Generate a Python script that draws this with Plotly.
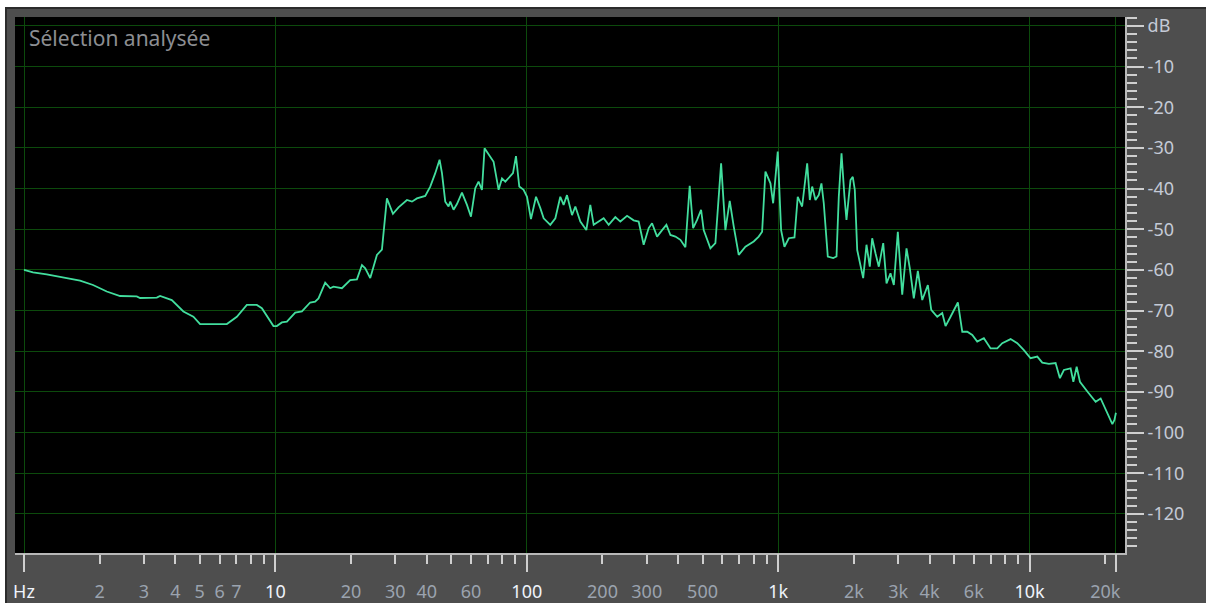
import plotly.graph_objects as go

# ---- data ----
freq_hz = [1.0, 1.086, 1.231, 1.430, 1.671, 1.882, 2.134, 2.411, 2.809, 2.895, 3.375, 3.478, 3.871, 4.305,
           4.718, 5.017, 6.410, 7.025, 7.699, 8.436, 8.834, 9.822, 10.13, 10.61, 11.11, 11.99, 12.75, 13.75,
           14.39, 14.84, 15.78, 16.52, 17.02, 18.39, 19.84, 21.10, 22.09, 22.77, 23.84, 25.34, 26.53, 27.77,
           29.35, 30.89, 33.37, 34.93, 36.56, 39.45, 41.30, 43.24, 44.98, 45.98, 47.39, 48.84, 49.61, 51.13,
           52.75, 55.22, 57.81, 59.97, 62.37, 64.29, 66.32, 67.92, 70.47, 73.78, 77.24, 79.67, 82.12, 85.97,
           88.13, 90.57, 93.35, 97.11, 100.2, 103.9, 108.8, 113.2, 116.7, 124.0, 129.9, 135.9, 140.1, 144.5,
           151.3, 156.0, 163.3, 172.5, 178.9, 184.5, 193.1, 202.2, 211.7, 225.0, 235.6, 250.5, 266.1, 278.6,
           291.7, 305.4, 315.0, 329.8, 345.3, 359.2, 372.6, 390.0, 408.3, 427.4, 444.6, 458.7, 475.8, 493.5,
           505.4, 537.4, 562.6, 592.8, 616.6, 641.5, 665.4, 696.6, 740.7, 799.0, 836.6, 863.0, 889.7, 931.4,
           954.8, 995.9, 1027, 1059, 1102, 1161, 1196, 1245, 1304, 1336, 1365, 1407, 1450, 1486, 1518, 1575,
           1655, 1706, 1742, 1786, 1835, 1869, 1939, 1980, 2017, 2062, 2178, 2245, 2314, 2365, 2438, 2513,
           2617, 2697, 2797, 2884, 2991, 3114, 3239, 3339, 3463, 3593, 3741, 3938, 4062, 4292, 4493, 4631,
           4848, 5184, 5398, 5651, 5916, 6190, 6578, 6996, 7435, 7786, 8403, 8933, 9491, 10090, 10730, 11230,
           11935, 12690, 13200, 13690, 14560, 14930, 15390, 15860, 16970, 18310, 19170, 20390, 21340, 21750,
           22050]
level_db = [-60.0, -60.6, -61.1, -61.8, -62.6, -63.7, -65.3, -66.4, -66.5, -66.9, -66.8, -66.4, -67.4, -70.2,
            -71.5, -73.3, -73.3, -71.5, -68.6, -68.6, -69.4, -73.8, -73.8, -72.9, -72.7, -70.5, -70.2, -68.0,
            -67.8, -67.0, -63.1, -64.5, -64.1, -64.5, -62.5, -62.3, -58.8, -59.6, -62.0, -56.3, -55.0, -42.4,
            -46.2, -44.6, -42.8, -43.2, -42.4, -41.8, -39.5, -36.2, -32.9, -36.2, -43.2, -44.4, -43.2, -45.2,
            -43.8, -41.0, -44.0, -46.9, -39.9, -38.3, -40.3, -30.1, -31.5, -33.4, -40.3, -37.5, -38.3, -37.1,
            -36.2, -32.0, -39.5, -40.3, -42.0, -47.5, -42.0, -44.8, -47.3, -48.9, -47.3, -42.0, -44.0, -41.6,
            -46.5, -44.4, -48.1, -50.2, -44.0, -48.9, -48.1, -47.3, -48.9, -47.0, -48.1, -46.7, -47.8, -48.1,
            -53.8, -49.7, -48.5, -51.8, -50.2, -48.9, -51.4, -51.8, -52.6, -54.4, -39.3, -49.7, -47.7, -45.2,
            -50.2, -54.7, -53.4, -33.8, -50.2, -43.0, -49.3, -56.3, -54.3, -53.0, -51.8, -50.6, -35.8, -38.7,
            -43.6, -30.9, -50.2, -54.3, -52.2, -52.0, -42.0, -44.4, -33.8, -42.8, -39.5, -42.8, -41.6, -38.7, -43.6, -56.7,
            -57.1, -56.7, -42.0, -31.3, -42.0, -47.7, -37.9, -37.1, -40.3, -55.1, -62.0, -53.8, -59.2, -52.2, -55.9, -59.2,
            -53.4, -63.3, -60.8, -63.7, -50.6, -66.1, -54.7, -59.6, -67.0, -60.2, -67.4, -63.7, -69.8, -71.5, -70.6, -73.8,
            -71.5, -68.0, -75.2, -75.2, -76.0, -77.6, -76.8, -79.3, -79.3, -78.0, -77.0, -78.0, -79.7, -81.7, -81.3, -82.8,
            -83.1, -82.9, -86.6, -84.6, -84.2, -87.5, -83.8, -87.5, -89.9, -92.4, -91.6, -95.2, -97.9, -96.9,
            -95.1]

x_label_vals = [1, 2, 3, 4, 5, 6, 7, 10, 20, 30, 40, 60, 100, 200, 300, 500,
                1000, 2000, 3000, 4000, 6000, 10000, 20000]
x_label_text = ["Hz", "2", "3", "4", "5", "6", "7", "10", "20", "30", "40", "60", "100", "200", "300", "500",
                "1k", "2k", "3k", "4k", "6k", "10k", "20k"]
x_bright = ["Hz", "10", "100", "1k", "10k"]
x_minor_vals = [8, 9, 50, 70, 80, 90, 400, 600, 700, 800, 900, 5000, 7000, 8000, 9000]
x_major_vals = [1, 10, 100, 1000, 10000, 22050]

y_tick_vals = [0, -10, -20, -30, -40, -50, -60, -70, -80, -90, -100, -110, -120]
y_tick_text = ["dB", "-10", "-20", "-30", "-40", "-50", "-60", "-70", "-80", "-90", "-100", "-110", "-120"]

title_text = "Sélection analysée"

# ---- styling ----
W, H = 1206, 603
ML, MR, MT, MB = 15, 81, 17, 50
PW, PH = W - ML - MR, H - MT - MB
PANEL = "#4e4e4e"
GRID = "#0c4a0c"
LINE = "#42de9e"
TICKC = "#cfcfcf"
FONT = "Noto Sans"
XRANGE = [-0.0358, 4.3795]
YRANGE = [-129.6, 2.2]


def px_x(p):
    return (p - ML) / PW


def px_y(p):
    return 1 - (p - MT) / PH


def color_label(t):
    c = "#eef3fb" if t in x_bright else "#9ba3af"
    return f"<span style='color:{c}'>{t}</span>"


fig = go.Figure()
fig.add_trace(go.Scatter(x=freq_hz, y=level_db, mode="lines",
                         line=dict(color=LINE, width=1.8), hoverinfo="skip", showlegend=False))
fig.add_trace(go.Scatter(x=[x_major_vals[0]], y=[YRANGE[0] - 10], xaxis="x2", mode="markers",
                         marker=dict(opacity=0), hoverinfo="skip", showlegend=False))

fig.update_layout(
    width=W, height=H,
    margin=dict(l=ML, r=MR, t=MT, b=MB, pad=0, autoexpand=False),
    paper_bgcolor=PANEL, plot_bgcolor="#000000",
    font=dict(family=FONT, size=18, color="#c4cad6"),
    xaxis=dict(type="log", range=XRANGE, showgrid=False, zeroline=False, automargin=False,
               tickmode="array", tickvals=x_label_vals,
               ticktext=[color_label(t) for t in x_label_text],
               ticks="outside", ticklen=9, tickwidth=2, tickcolor=TICKC,
               ticklabelstandoff=12,
               tickfont=dict(family=FONT, size=18),
               showline=True, linecolor="#b8b8b8", linewidth=2,
               minor=dict(tickmode="array", tickvals=x_minor_vals, ticks="outside",
                          ticklen=9, tickwidth=2, tickcolor=TICKC, showgrid=False)),
    xaxis2=dict(type="log", range=XRANGE, overlaying="x", anchor="y", side="bottom", automargin=False,
                tickmode="array", tickvals=x_major_vals, showticklabels=False,
                ticks="outside", ticklen=18, tickwidth=2, tickcolor=TICKC,
                showgrid=True, gridcolor=GRID, gridwidth=1, zeroline=False, showline=False),
    yaxis=dict(range=YRANGE, side="right", tickmode="array", tickvals=y_tick_vals, automargin=False,
               ticktext=y_tick_text, ticks="outside", ticklen=17, tickwidth=2, tickcolor=TICKC,
               tickfont=dict(family=FONT, size=18, color="#c4cad6"),
               showgrid=True, gridcolor=GRID, gridwidth=1, zeroline=False,
               showline=True, linecolor="#b8b8b8", linewidth=2,
               minor=dict(tickmode="linear", tick0=0, dtick=2, ticks="outside",
                          ticklen=10, tickwidth=2, tickcolor=TICKC, showgrid=False)),
    annotations=[dict(text=title_text, xref="paper", yref="paper", x=px_x(27), y=px_y(38),
                      xanchor="left", yanchor="middle", showarrow=False,
                      font=dict(family=FONT, size=21, color="#8c8e92"))],
    shapes=[
        dict(type="rect", xref="paper", yref="paper", x0=px_x(0), x1=px_x(W), y0=px_y(7), y1=px_y(0),
             fillcolor="#ffffff", line=dict(width=0), layer="above"),
        dict(type="rect", xref="paper", yref="paper", x0=px_x(0), x1=px_x(5), y0=px_y(H), y1=px_y(0),
             fillcolor="#ffffff", line=dict(width=0), layer="above"),
        dict(type="rect", xref="paper", yref="paper", x0=px_x(5), x1=px_x(W), y0=px_y(9), y1=px_y(7),
             fillcolor="#2c2c2c", line=dict(width=0), layer="above"),
        dict(type="rect", xref="paper", yref="paper", x0=px_x(5), x1=px_x(7), y0=px_y(H), y1=px_y(7),
             fillcolor="#2c2c2c", line=dict(width=0), layer="above"),
    ],
)

fig.write_html("out.html",
               config={"displayModeBar": False},
               post_script="document.body.style.margin='0px';"
                           "document.documentElement.style.overflow='hidden';")
